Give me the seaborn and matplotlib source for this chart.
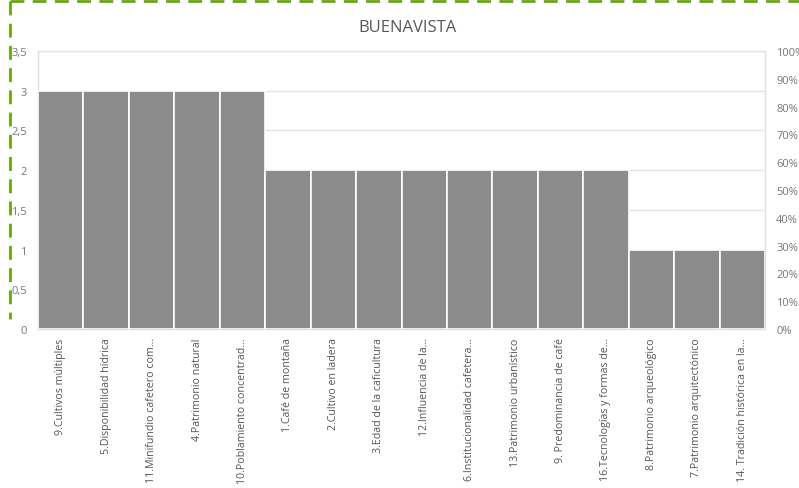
import matplotlib
matplotlib.use("Agg")
import matplotlib.pyplot as plt
import seaborn as sns
import pandas as pd
from matplotlib.lines import Line2D

categories = [
    "9.Cultivos múltiples",
    "5.Disponibilidad hídrica",
    "11.Minifundio cafetero com...",
    "4.Patrimonio natural",
    "10.Poblamiento concentrad...",
    "1.Café de montaña",
    "2.Cultivo en ladera",
    "3.Edad de la caficultura",
    "12.Influencia de la...",
    "6.Institucionalidad cafetera...",
    "13.Patrimonio urbanístico",
    "9. Predominancia de café",
    "16.Tecnologías y formas de...",
    "8.Patrimonio arqueológico",
    "7.Patrimonio arquitectónico",
    "14. Tradición histórica en la...",
]
values = [3, 3, 3, 3, 3, 2, 2, 2, 2, 2, 2, 2, 2, 1, 1, 1]
left_ticks = [0, 0.5, 1, 1.5, 2, 2.5, 3, 3.5]
left_labels = ["0", "0,5", "1", "1,5", "2", "2,5", "3", "3,5"]
right_ticks = [0, 10, 20, 30, 40, 50, 60, 70, 80, 90, 100]
right_labels = [f"{t}%" for t in right_ticks]
title = "BUENAVISTA"

df = pd.DataFrame({"cat": categories, "val": values})

sns.set_style("white")
plt.rcParams["font.family"] = ["Open Sans", "DejaVu Sans"]

fig = plt.figure(figsize=(7.99, 4.89), dpi=100)
ax = fig.add_axes([38/799, 1 - 330/489, (765-38)/799, (330-52)/489])

sns.barplot(data=df, x="cat", y="val", color="#8c8c8c", saturation=1,
            width=1.0, edgecolor="white", linewidth=1.2, ax=ax, zorder=3)
ax.set_xlim(-0.5, len(categories) - 0.5)
ax.set_ylim(0, 3.5)
ax.set_yticks(left_ticks)
ax.set_yticklabels(left_labels, fontsize=8, color="#777777")
ax.yaxis.grid(True, color="#e3e3e3", linewidth=1, zorder=0)
ax.set_axisbelow(True)
ax.set_xlabel("")
ax.set_ylabel("")
ax.tick_params(axis="both", length=0, pad=8)
ax.tick_params(axis="x", pad=6)
ax.set_xticks(range(len(categories)))
ax.set_xticklabels(categories, rotation=90, fontsize=7.7, color="#555555",
                   va="top", ha="center")
for s in ax.spines.values():
    s.set_color("#e0e0e0")
    s.set_linewidth(1)

ax2 = ax.twinx()
ax2.set_ylim(0, 100)
ax2.set_yticks(right_ticks)
ax2.set_yticklabels(right_labels, fontsize=8, color="#777777")
ax2.tick_params(axis="y", length=0, pad=8)
for s in ax2.spines.values():
    s.set_visible(False)

fig.text(407/799, 1 - 28/489, title, ha="center", va="center",
         fontsize=12, color="#595959")

green = "#6aa60f"
fig.add_artist(Line2D([10/799, 1.0], [1 - 2/489, 1 - 2/489], color=green,
                      linewidth=2, linestyle=(0, (5, 3)), transform=fig.transFigure))
fig.add_artist(Line2D([10/799, 10/799], [1 - 2/489, 1 - 320/489], color=green,
                      linewidth=2, linestyle=(0, (5, 3)), transform=fig.transFigure))

fig.savefig("out.png", dpi=100)
